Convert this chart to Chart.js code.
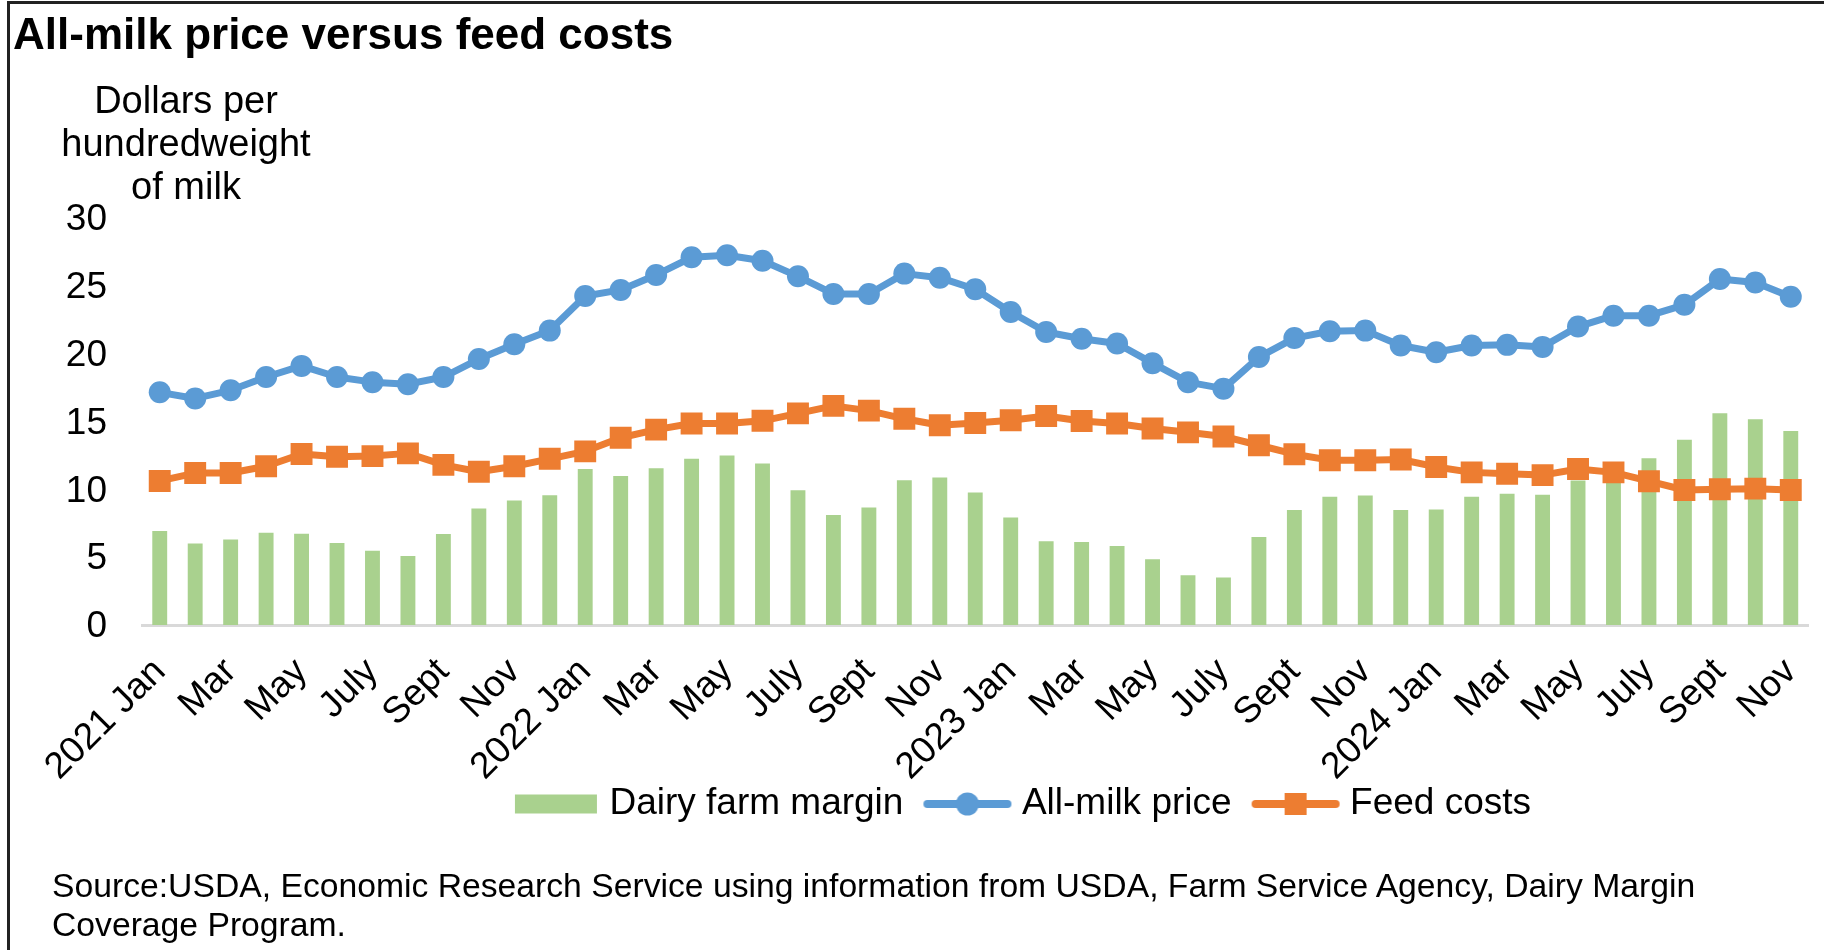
<!DOCTYPE html>
<html lang="en">

<head>
    <meta charset="UTF-8">
    <title>All-milk price versus feed costs</title>
    <script src="https://cdn.jsdelivr.net/npm/chart.js@4.4.1/dist/chart.umd.min.js"></script>
    <style>
        body {
            margin: 0;
            background-color: #fff;
            font-family: "Liberation Sans", Arial, sans-serif;
            color: #000;
        }

        .page {
            position: relative;
            width: 1824px;
            height: 950px;
            overflow: hidden;
        }

        .frame {
            position: absolute;
            left: 7px;
            top: 1px;
            right: -10px;
            bottom: -10px;
            border-left: 3px solid #222;
            border-top: 3px solid #222;
        }

        .chart-box {
            position: absolute;
            left: 0;
            top: 0;
            width: 1824px;
            height: 950px;
        }

        .title {
            position: absolute;
            left: 13px;
            top: 9px;
            font-size: 44px;
            line-height: 50px;
            font-weight: bold;
            white-space: nowrap;
        }

        .y-title {
            position: absolute;
            left: 36px;
            top: 79px;
            width: 300px;
            text-align: center;
            font-size: 38px;
            line-height: 43px;
        }

        .source {
            position: absolute;
            left: 52px;
            top: 866px;
            font-size: 33.7px;
            line-height: 39px;
            white-space: nowrap;
        }
    </style>
</head>

<body>
    <div class="page">
        <div class="frame"></div>
        <div class="chart-box"><canvas id="milkChart"></canvas></div>
        <div class="title">All-milk price versus feed costs</div>
        <div class="y-title">Dollars per<br>hundredweight<br>of milk</div>
        <div class="source">Source:USDA, Economic Research Service using information from USDA, Farm Service Agency, Dairy Margin<br>Coverage Program.</div>
    </div>

    <script>
        // months Jan 2021 - Nov 2024
        const years = [2021, 2022, 2023, 2024];
        const monthNames = ['Jan', 'Feb', 'Mar', 'Apr', 'May', 'June', 'July', 'Aug', 'Sept', 'Oct', 'Nov', 'Dec'];
        const monthCount = 47;

        const milkPrice = [17.15, 16.7, 17.3, 18.28, 19.1, 18.28, 17.9, 17.75, 18.28, 19.6, 20.7, 21.7,
            24.25, 24.7, 25.8, 27.1, 27.25, 26.85, 25.7, 24.4, 24.4, 25.9, 25.6, 24.75,
            23.07, 21.6, 21.1, 20.75, 19.3, 17.9, 17.42, 19.75, 21.15, 21.65, 21.7, 20.6,
            20.1, 20.6, 20.65, 20.5, 22.0, 22.8, 22.8, 23.6, 25.5, 25.25, 24.2];

        const feedCosts = [10.62, 11.2, 11.2, 11.7, 12.6, 12.4, 12.45, 12.65, 11.8, 11.3, 11.7, 12.25,
            12.8, 13.8, 14.4, 14.85, 14.85, 15.05, 15.6, 16.15, 15.8, 15.2, 14.72, 14.89,
            15.09, 15.4, 15.04, 14.85, 14.48, 14.2, 13.9, 13.25, 12.59, 12.15, 12.15, 12.2,
            11.65, 11.25, 11.15, 11.05, 11.5, 11.25, 10.6, 9.95, 10.0, 10.05, 9.95];

        const margin = [6.92, 6.01, 6.31, 6.8, 6.72, 6.04, 5.47, 5.08, 6.7, 8.59, 9.18, 9.57,
            11.5, 10.99, 11.55, 12.25, 12.5, 11.9, 9.94, 8.1, 8.67, 10.67, 10.87, 9.77,
            7.93, 6.18, 6.11, 5.82, 4.84, 3.66, 3.51, 6.48, 8.47, 9.45, 9.55, 8.47,
            8.52, 9.45, 9.67, 9.6, 10.65, 11.55, 12.3, 13.65, 15.6, 15.17, 14.3];

        const yTicks = [0, 5, 10, 15, 20, 25, 30];

        const categories = [];
        years.forEach(function(y) {
            monthNames.forEach(function(m, i) {
                if (categories.length < monthCount) {
                    categories.push(i === 0 ? y + ' ' + m : m);
                }
            });
        });

        const green = '#A9D18E';
        const blue = '#5B9BD5';
        const orange = '#ED7D31';

        // legend symbols (line + marker like the original)
        function makeIcon(kind, color) {
            const c = document.createElement('canvas');
            c.width = 90;
            c.height = 26;
            const g = c.getContext('2d');
            g.fillStyle = color;
            g.strokeStyle = color;
            if (kind === 'bar') {
                g.fillRect(5, 3.5, 82, 19);
            } else {
                g.lineWidth = 8;
                g.lineCap = 'round';
                g.beginPath();
                g.moveTo(5, 13);
                g.lineTo(85, 13);
                g.stroke();
                if (kind === 'circle') {
                    g.beginPath();
                    g.arc(45, 13, 11.5, 0, Math.PI * 2);
                    g.fill();
                } else {
                    g.fillRect(34, 2, 22, 22);
                }
            }
            return c;
        }
        const legendIcons = [makeIcon('bar', green), makeIcon('circle', blue), makeIcon('rect', orange)];

        // put the legend where it sits in the original
        const legendShift = {
            id: 'legendShift',
            afterLayout(chart) {
                const lg = chart.legend;
                const dy = 757.5 - lg.top;
                lg.left += 90;
                lg.right += 90;
                lg.top += dy;
                lg.bottom += dy;
            }
        };

        Chart.defaults.font.family = '"Liberation Sans", Arial, sans-serif';
        Chart.defaults.color = '#000';

        const ctx = document.getElementById('milkChart').getContext('2d');
        new Chart(ctx, {
            type: 'bar',
            data: {
                labels: categories,
                datasets: [{
                    label: 'Dairy farm margin',
                    data: margin,
                    backgroundColor: green,
                    barPercentage: 0.42,
                    categoryPercentage: 1.0,
                    order: 3
                }, {
                    type: 'line',
                    label: 'All-milk price',
                    data: milkPrice,
                    borderColor: blue,
                    backgroundColor: blue,
                    borderWidth: 7,
                    borderJoinStyle: 'round',
                    pointStyle: 'circle',
                    pointRadius: 11,
                    pointBorderWidth: 0,
                    tension: 0,
                    order: 1
                }, {
                    type: 'line',
                    label: 'Feed costs',
                    data: feedCosts,
                    borderColor: orange,
                    backgroundColor: orange,
                    borderWidth: 7,
                    borderJoinStyle: 'round',
                    pointStyle: 'rect',
                    pointRadius: 15.5,
                    pointBorderWidth: 0,
                    tension: 0,
                    order: 2
                }]
            },
            options: {
                responsive: true,
                maintainAspectRatio: false,
                animation: false,
                layout: {
                    padding: { left: 60, right: 14, top: 218, bottom: 85 }
                },
                plugins: {
                    tooltip: { enabled: false },
                    legend: {
                        position: 'bottom',
                        labels: {
                            usePointStyle: true,
                            pointStyleWidth: 72,
                            boxHeight: 26,
                            padding: 28,
                            color: '#000',
                            font: { size: 37 },
                            sort: function(a, b) {
                                return a.datasetIndex - b.datasetIndex;
                            },
                            generateLabels: function(chart) {
                                const items = Chart.defaults.plugins.legend.labels.generateLabels(chart);
                                items.forEach(function(it) {
                                    it.pointStyle = legendIcons[it.datasetIndex];
                                });
                                return items;
                            }
                        }
                    }
                },
                scales: {
                    x: {
                        grid: { display: false, drawTicks: false },
                        border: { color: '#D9D9D9', width: 3 },
                        ticks: {
                            autoSkip: false,
                            minRotation: 45,
                            maxRotation: 45,
                            padding: 25,
                            color: '#000',
                            font: { size: 37 },
                            callback: function(value, index) {
                                return index % 2 === 0 ? categories[index] : '';
                            }
                        },
                        afterFit: function(scale) {
                            scale.height = 165;
                            // the rotated labels have room already, keep the plot full width
                            scale.paddingLeft = 0;
                            scale.paddingRight = 0;
                        }
                    },
                    y: {
                        min: yTicks[0],
                        max: yTicks[yTicks.length - 1],
                        grid: { display: false, drawTicks: false },
                        border: { display: false },
                        afterBuildTicks: function(scale) {
                            scale.ticks = yTicks.map(function(v) { return { value: v }; });
                        },
                        ticks: {
                            padding: 35,
                            labelOffset: 2,
                            color: '#000',
                            font: { size: 37 }
                        },
                        afterFit: function(scale) {
                            scale.width = 82;
                        }
                    }
                }
            },
            plugins: [legendShift]
        });
    </script>
</body>

</html>
